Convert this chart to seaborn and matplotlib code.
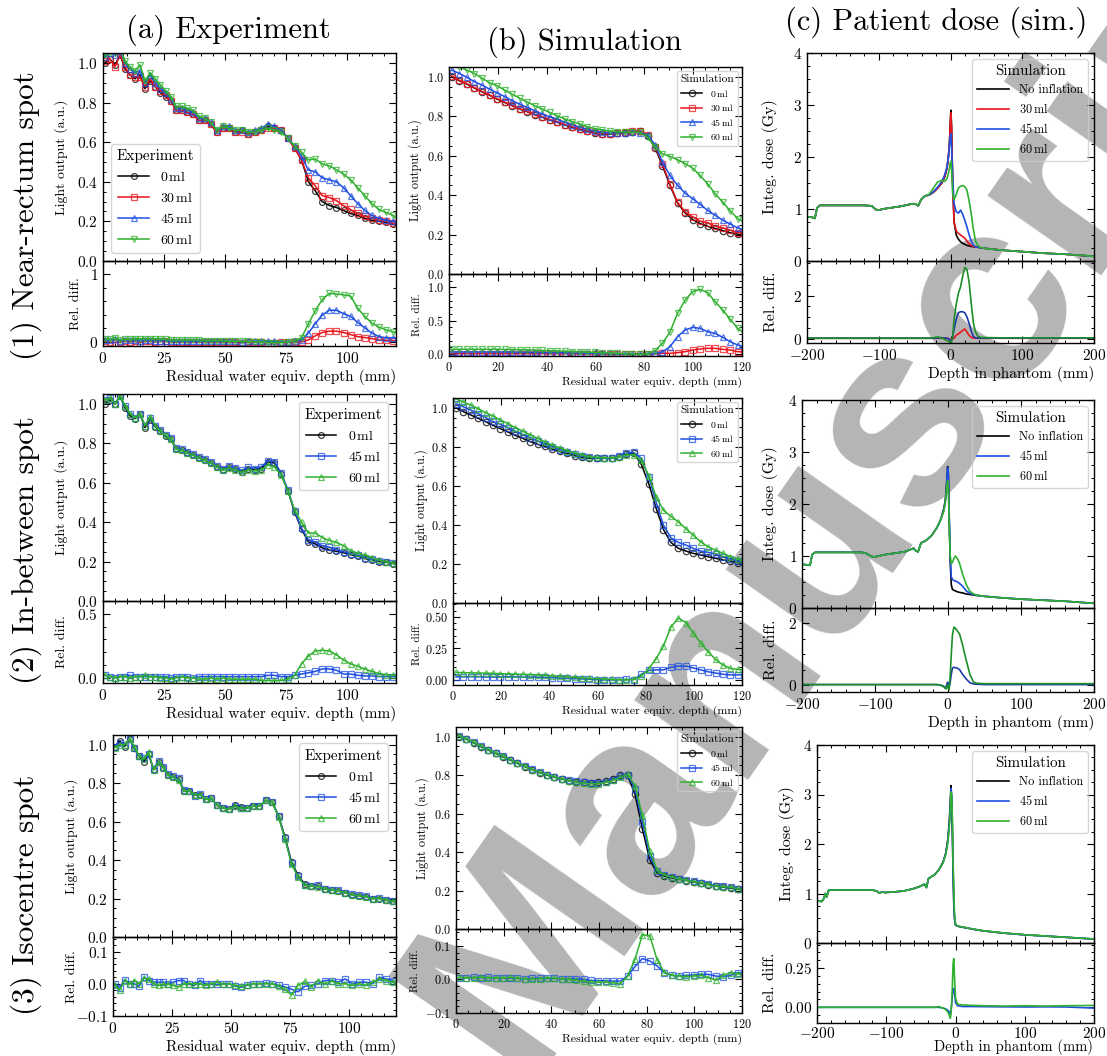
import numpy as np
import pandas as pd
import matplotlib
matplotlib.use("Agg")
import matplotlib.pyplot as plt
import seaborn as sns
from matplotlib.ticker import AutoMinorLocator, MultipleLocator, FixedLocator
from matplotlib.colors import to_rgba

# ---------------- data ----------------
# residual water equivalent depth of the fibre positions (experiment)
exp_x = [0.8, 2.8, 4.9, 7.0, 9.0, 11.0, 13.1, 15.1, 17.2, 19.3, 21.4, 23.5, 25.6, 27.8, 30.0,
         32.3, 34.6, 36.9, 39.3, 41.7, 44.1, 46.6, 49.1, 51.6, 54.2, 56.8, 59.4, 62.1, 64.8,
         67.5, 70.2, 72.9, 75.7, 78.5, 81.3, 84.1, 86.9, 89.8, 92.7, 95.6, 98.5, 101.4, 104.3,
         107.2, 110.1, 113.0, 115.9, 118.8, 121.7]
# simulation bins
sim_x = [1.2, 4.3, 7.4, 10.4, 13.5, 16.6, 19.7, 22.8, 25.8, 28.9, 32.0, 35.1, 38.2, 41.2, 44.3,
         47.4, 50.5, 53.6, 56.6, 59.7, 62.8, 65.9, 69.0, 72.0, 75.1, 78.2, 81.3, 84.4, 87.4, 90.5,
         93.6, 96.7, 99.8, 102.8, 105.9, 109.0, 112.1, 115.2, 118.2, 121.3]

# (1) near-rectum spot, experiment
r1_exp_0 = [1.00, 1.02, 0.99, 1.04, 0.97, 0.94, 0.92, 0.94, 0.87, 0.91,
            0.88, 0.85, 0.83, 0.81, 0.76, 0.76, 0.75, 0.74, 0.71, 0.71,
            0.69, 0.65, 0.67, 0.67, 0.65, 0.66, 0.64, 0.65, 0.66, 0.68,
            0.67, 0.66, 0.62, 0.57, 0.51, 0.40, 0.355, 0.30, 0.28, 0.27,
            0.255, 0.24, 0.23, 0.215, 0.205, 0.20, 0.195, 0.185, 0.175]
r1_exp_30 = [1.01, 1.02, 0.98, 1.04, 0.98, 0.94, 0.93, 0.93, 0.88, 0.92,
             0.88, 0.86, 0.84, 0.81, 0.76, 0.76, 0.75, 0.74, 0.71, 0.71,
             0.69, 0.65, 0.67, 0.67, 0.65, 0.65, 0.64, 0.65, 0.66, 0.67,
             0.67, 0.66, 0.62, 0.57, 0.51, 0.42, 0.38, 0.33, 0.32, 0.305,
             0.28, 0.26, 0.24, 0.225, 0.215, 0.207, 0.20, 0.19, 0.18]
r1_exp_45 = [1.03, 1.05, 1.04, 1.06, 1.00, 0.97, 0.95, 0.96, 0.90, 0.94,
             0.90, 0.87, 0.85, 0.82, 0.77, 0.77, 0.76, 0.75, 0.72, 0.72,
             0.70, 0.66, 0.68, 0.68, 0.66, 0.66, 0.65, 0.66, 0.67, 0.69,
             0.68, 0.66, 0.62, 0.58, 0.53, 0.46, 0.45, 0.42, 0.41, 0.40,
             0.37, 0.33, 0.29, 0.255, 0.23, 0.215, 0.205, 0.20, 0.19]
r1_exp_60 = [1.04, 1.05, 1.05, 1.07, 1.01, 0.98, 0.96, 0.99, 0.91, 0.95,
             0.92, 0.89, 0.86, 0.83, 0.78, 0.78, 0.77, 0.76, 0.73, 0.72,
             0.70, 0.66, 0.68, 0.67, 0.66, 0.66, 0.65, 0.65, 0.66, 0.67,
             0.66, 0.65, 0.62, 0.58, 0.55, 0.51, 0.515, 0.49, 0.48, 0.46,
             0.44, 0.41, 0.37, 0.33, 0.29, 0.26, 0.245, 0.23, 0.20]
r1_exp_rel_30 = [0.01, 0.0, -0.01, 0.0, 0.01, 0.0, 0.01, -0.01, 0.01, 0.01,
                 0.0, 0.01, 0.01, 0.0, 0.0, 0.0, 0.0, 0.0, 0.0, 0.0,
                 0.0, 0.0, 0.0, 0.0, 0.0, -0.01, 0.0, 0.0, 0.0, -0.01,
                 -0.01, 0.0, 0.0, 0.0, 0.0, 0.03, 0.09, 0.14, 0.16, 0.16,
                 0.14, 0.11, 0.08, 0.065, 0.05, 0.03, 0.025, 0.02, 0.02]
r1_exp_rel_45 = [0.03, 0.03, 0.05, 0.02, 0.03, 0.03, 0.03, 0.02, 0.03, 0.03,
                 0.02, 0.02, 0.02, 0.01, 0.01, 0.01, 0.01, 0.01, 0.01, 0.01,
                 0.01, 0.01, 0.01, 0.01, 0.01, 0.0, 0.01, 0.01, 0.01, 0.01,
                 0.01, 0.0, 0.0, 0.01, 0.03, 0.13, 0.27, 0.40, 0.47, 0.47,
                 0.42, 0.38, 0.29, 0.21, 0.13, 0.08, 0.06, 0.06, 0.055]
r1_exp_rel_60 = [0.05, 0.04, 0.06, 0.03, 0.04, 0.04, 0.05, 0.05, 0.05, 0.05,
                 0.05, 0.05, 0.04, 0.03, 0.03, 0.03, 0.03, 0.03, 0.03, 0.02,
                 0.02, 0.02, 0.02, 0.01, 0.01, 0.01, 0.01, 0.0, 0.0, -0.01,
                 -0.01, -0.01, 0.0, 0.01, 0.06, 0.27, 0.46, 0.63, 0.72, 0.71,
                 0.70, 0.68, 0.50, 0.38, 0.28, 0.22, 0.18, 0.15, 0.12]

# (1) near-rectum spot, simulation
r1_sim_0 = [1.0, 0.98, 0.963, 0.943, 0.924, 0.907, 0.887, 0.87, 0.854, 0.837,
            0.823, 0.808, 0.795, 0.781, 0.77, 0.756, 0.744, 0.733, 0.724, 0.716,
            0.71, 0.71, 0.714, 0.717, 0.722, 0.724, 0.70, 0.64, 0.55, 0.45,
            0.36, 0.31, 0.276, 0.256, 0.242, 0.231, 0.22, 0.209, 0.202, 0.196]
r1_sim_30 = [1.005, 0.982, 0.965, 0.945, 0.926, 0.909, 0.889, 0.872, 0.856, 0.839,
             0.825, 0.81, 0.797, 0.783, 0.772, 0.758, 0.746, 0.735, 0.726, 0.718,
             0.712, 0.712, 0.716, 0.719, 0.724, 0.727, 0.705, 0.645, 0.56, 0.455,
             0.365, 0.315, 0.29, 0.268, 0.26, 0.242, 0.234, 0.222, 0.21, 0.205]
r1_sim_45 = [1.034, 1.017, 0.997, 0.976, 0.958, 0.938, 0.918, 0.9, 0.879, 0.862,
             0.845, 0.828, 0.811, 0.798, 0.785, 0.77, 0.758, 0.744, 0.734, 0.724,
             0.719, 0.714, 0.716, 0.716, 0.72, 0.717, 0.705, 0.656, 0.567, 0.50,
             0.45, 0.41, 0.382, 0.354, 0.323, 0.298, 0.273, 0.253, 0.234, 0.22]
r1_sim_60 = [1.07, 1.05, 1.034, 1.017, 0.993, 0.97, 0.955, 0.933, 0.912, 0.892,
             0.872, 0.854, 0.837, 0.82, 0.803, 0.786, 0.773, 0.761, 0.747, 0.737,
             0.731, 0.724, 0.722, 0.719, 0.719, 0.719, 0.694, 0.645, 0.61, 0.596,
             0.58, 0.56, 0.537, 0.50, 0.458, 0.407, 0.365, 0.32, 0.281, 0.26]
r1_sim_rel_30 = [0.005, 0.005, 0.005, 0.005, 0.005, 0.005, 0.005, 0.005, 0.005, 0.005,
                 0.005, 0.005, 0.005, 0.004, 0.004, 0.004, 0.003, 0.003, 0.003, 0.002,
                 0.002, 0.0, 0.0, 0.0, 0.0, 0.0, 0.0, 0.005, 0.01, 0.01,
                 0.02, 0.035, 0.06, 0.075, 0.085, 0.085, 0.07, 0.06, 0.035, 0.03]
r1_sim_rel_45 = [0.03, 0.03, 0.03, 0.03, 0.03, 0.03, 0.03, 0.03, 0.028, 0.027,
                 0.026, 0.025, 0.022, 0.02, 0.02, 0.018, 0.016, 0.014, 0.012, 0.01,
                 0.008, 0.005, 0.003, 0.0, -0.003, -0.005, 0.0, 0.01, 0.03, 0.11,
                 0.26, 0.36, 0.40, 0.385, 0.335, 0.31, 0.25, 0.185, 0.135, 0.10]
r1_sim_rel_60 = [0.07, 0.07, 0.07, 0.07, 0.07, 0.07, 0.07, 0.068, 0.066, 0.064,
                 0.06, 0.057, 0.053, 0.05, 0.045, 0.04, 0.036, 0.032, 0.028, 0.024,
                 0.02, 0.015, 0.01, 0.005, 0.0, -0.005, 0.0, 0.05, 0.16, 0.33,
                 0.61, 0.81, 0.935, 0.97, 0.92, 0.785, 0.66, 0.52, 0.385, 0.30]

# (2) in-between spot, experiment
r2_exp_0 = [1.00, 1.02, 1.00, 1.04, 0.98, 0.94, 0.925, 0.95, 0.88, 0.92,
            0.885, 0.86, 0.835, 0.82, 0.77, 0.765, 0.75, 0.74, 0.725, 0.715,
            0.70, 0.68, 0.665, 0.678, 0.668, 0.655, 0.672, 0.666, 0.672, 0.705,
            0.70, 0.645, 0.56, 0.45, 0.365, 0.30, 0.29, 0.27, 0.258, 0.252,
            0.245, 0.235, 0.228, 0.215, 0.21, 0.20, 0.197, 0.19, 0.18]
r2_exp_45 = [1.02, 1.03, 1.00, 1.04, 0.99, 0.95, 0.93, 0.95, 0.89, 0.93,
             0.89, 0.865, 0.84, 0.825, 0.775, 0.77, 0.755, 0.745, 0.73, 0.72,
             0.705, 0.685, 0.67, 0.683, 0.673, 0.662, 0.678, 0.672, 0.68, 0.712,
             0.707, 0.65, 0.565, 0.455, 0.37, 0.31, 0.30, 0.28, 0.273, 0.26,
             0.25, 0.24, 0.232, 0.22, 0.212, 0.205, 0.20, 0.192, 0.183]
r2_exp_60 = [1.02, 1.03, 1.00, 1.04, 0.99, 0.95, 0.93, 0.95, 0.89, 0.935,
             0.89, 0.86, 0.84, 0.82, 0.77, 0.765, 0.75, 0.74, 0.725, 0.715,
             0.70, 0.68, 0.665, 0.675, 0.665, 0.652, 0.665, 0.66, 0.665, 0.69,
             0.68, 0.64, 0.56, 0.46, 0.40, 0.345, 0.345, 0.322, 0.307, 0.297,
             0.28, 0.255, 0.242, 0.234, 0.22, 0.207, 0.20, 0.192, 0.183]
r2_exp_rel_45 = [0.02, 0.01, 0.0, 0.01, 0.01, 0.02, 0.01, 0.01, 0.01, 0.01,
                 0.01, 0.01, 0.01, 0.0, 0.01, 0.01, 0.01, 0.0, 0.01, 0.01,
                 0.01, 0.01, 0.01, 0.01, 0.01, 0.01, 0.01, 0.01, 0.01, 0.02,
                 0.02, 0.01, 0.01, 0.02, 0.03, 0.04, 0.05, 0.07, 0.07, 0.06,
                 0.03, 0.03, 0.02, 0.015, 0.015, 0.01, 0.01, 0.01, 0.005]
r2_exp_rel_60 = [0.02, 0.01, 0.0, 0.01, 0.01, 0.0, 0.01, 0.01, 0.02, 0.01,
                 0.01, 0.0, 0.0, -0.01, 0.0, 0.01, 0.0, 0.0, -0.01, -0.01,
                 0.0, -0.01, 0.0, -0.01, -0.01, -0.01, -0.01, -0.01, -0.02, -0.02,
                 -0.02, -0.02, -0.01, 0.02, 0.11, 0.17, 0.21, 0.215, 0.21, 0.18,
                 0.14, 0.11, 0.09, 0.07, 0.05, 0.035, 0.025, 0.02, 0.015]

# (2) in-between spot, simulation
r2_sim_0 = [1.0, 0.98, 0.963, 0.946, 0.929, 0.91, 0.893, 0.876, 0.859, 0.844,
            0.827, 0.813, 0.802, 0.788, 0.776, 0.766, 0.754, 0.746, 0.741, 0.741,
            0.741, 0.741, 0.749, 0.763, 0.768, 0.71, 0.61, 0.483, 0.376, 0.31,
            0.28, 0.266, 0.254, 0.246, 0.237, 0.229, 0.22, 0.215, 0.207, 0.203]
r2_sim_45 = [1.02, 1.005, 0.988, 0.97, 0.95, 0.93, 0.915, 0.898, 0.88, 0.864,
             0.847, 0.83, 0.814, 0.8, 0.786, 0.775, 0.763, 0.751, 0.746, 0.742,
             0.741, 0.741, 0.751, 0.768, 0.771, 0.741, 0.644, 0.514, 0.398, 0.334,
             0.31, 0.297, 0.28, 0.266, 0.26, 0.25, 0.237, 0.225, 0.215, 0.21]
r2_sim_60 = [1.046, 1.03, 1.014, 0.995, 0.975, 0.958, 0.937, 0.919, 0.898, 0.881,
             0.861, 0.844, 0.825, 0.808, 0.795, 0.78, 0.768, 0.758, 0.749, 0.746,
             0.744, 0.744, 0.749, 0.758, 0.758, 0.73, 0.653, 0.542, 0.475, 0.444,
             0.415, 0.381, 0.347, 0.314, 0.288, 0.271, 0.254, 0.237, 0.225, 0.215]
r2_sim_rel_45 = [0.025, 0.025, 0.026, 0.025, 0.024, 0.023, 0.024, 0.025, 0.024, 0.023,
                 0.023, 0.022, 0.02, 0.018, 0.015, 0.012, 0.01, 0.008, 0.006, 0.003,
                 0.0, 0.0, 0.002, 0.004, 0.003, 0.045, 0.075, 0.08, 0.08, 0.10,
                 0.11, 0.11, 0.095, 0.08, 0.065, 0.055, 0.045, 0.04, 0.04, 0.045]
r2_sim_rel_60 = [0.06, 0.058, 0.056, 0.055, 0.054, 0.052, 0.05, 0.048, 0.046, 0.044,
                 0.042, 0.04, 0.036, 0.032, 0.028, 0.024, 0.02, 0.016, 0.012, 0.01,
                 0.008, 0.005, 0.002, 0.0, 0.005, 0.03, 0.09, 0.17, 0.27, 0.42,
                 0.49, 0.455, 0.37, 0.295, 0.224, 0.163, 0.118, 0.092, 0.084, 0.08]

# (3) isocentre spot, experiment
r3_exp_0 = [0.99, 1.02, 0.99, 1.03, 0.98, 0.94, 0.91, 0.95, 0.87, 0.91,
            0.88, 0.84, 0.83, 0.82, 0.76, 0.76, 0.74, 0.74, 0.715, 0.72,
            0.685, 0.67, 0.665, 0.685, 0.675, 0.67, 0.68, 0.68, 0.71, 0.70,
            0.63, 0.52, 0.39, 0.32, 0.275, 0.265, 0.265, 0.25, 0.245, 0.24,
            0.23, 0.22, 0.215, 0.21, 0.20, 0.20, 0.19, 0.185, 0.17]
r3_exp_45 = [0.99, 1.01, 1.00, 1.03, 0.98, 0.94, 0.93, 0.95, 0.875, 0.915,
             0.885, 0.845, 0.835, 0.825, 0.765, 0.76, 0.735, 0.745, 0.715, 0.72,
             0.685, 0.67, 0.665, 0.68, 0.668, 0.668, 0.68, 0.68, 0.71, 0.70,
             0.63, 0.515, 0.385, 0.315, 0.27, 0.265, 0.268, 0.252, 0.246, 0.243,
             0.23, 0.222, 0.216, 0.212, 0.20, 0.202, 0.194, 0.187, 0.17]
r3_exp_60 = [0.985, 1.0, 1.0, 1.03, 0.99, 0.94, 0.925, 0.96, 0.87, 0.91,
             0.88, 0.84, 0.83, 0.815, 0.76, 0.76, 0.74, 0.74, 0.715, 0.72,
             0.685, 0.67, 0.665, 0.68, 0.67, 0.67, 0.68, 0.68, 0.71, 0.70,
             0.625, 0.51, 0.38, 0.31, 0.27, 0.265, 0.262, 0.252, 0.245, 0.24,
             0.23, 0.22, 0.215, 0.21, 0.20, 0.202, 0.192, 0.186, 0.167]
r3_exp_rel_45 = [0.0, -0.013, 0.013, 0.0, 0.0, -0.008, 0.02, 0.01, 0.005, 0.005,
                 0.005, 0.0, 0.005, 0.01, 0.01, -0.002, -0.005, 0.01, 0.0, -0.002,
                 -0.002, 0.0, 0.0, -0.007, -0.011, -0.005, 0.0, 0.0, 0.002, 0.0,
                 -0.005, -0.01, -0.017, -0.025, -0.008, -0.005, 0.0, 0.01, 0.01, 0.005,
                 0.015, 0.0, 0.005, 0.005, 0.0, 0.02, 0.015, 0.01, -0.01]
r3_exp_rel_60 = [-0.005, -0.02, 0.01, 0.0, 0.01, 0.0, 0.017, 0.015, 0.0, -0.005,
                 -0.002, -0.002, -0.005, -0.01, 0.0, 0.0, 0.0, 0.0, -0.005, 0.0,
                 0.005, -0.002, 0.0, -0.005, -0.008, -0.003, 0.0, 0.0, 0.0, 0.0,
                 -0.008, -0.017, -0.035, -0.005, 0.007, -0.01, 0.01, 0.0, 0.008, 0.0,
                 0.0, -0.005, 0.0, -0.005, 0.005, 0.015, 0.01, 0.005, -0.017]

# (3) isocentre spot, simulation
r3_sim_0 = [1.0, 0.987, 0.968, 0.948, 0.93, 0.913, 0.895, 0.878, 0.861, 0.844,
            0.828, 0.813, 0.80, 0.789, 0.779, 0.771, 0.766, 0.762, 0.761, 0.762,
            0.768, 0.78, 0.798, 0.80, 0.70, 0.52, 0.36, 0.29, 0.275, 0.266,
            0.258, 0.252, 0.244, 0.237, 0.231, 0.223, 0.218, 0.213, 0.207, 0.20]
r3_sim_45 = [1.002, 0.989, 0.97, 0.95, 0.932, 0.915, 0.897, 0.88, 0.863, 0.846,
             0.83, 0.815, 0.802, 0.791, 0.781, 0.772, 0.767, 0.762, 0.759, 0.759,
             0.765, 0.777, 0.795, 0.80, 0.73, 0.555, 0.38, 0.30, 0.28, 0.27,
             0.261, 0.255, 0.247, 0.24, 0.234, 0.226, 0.221, 0.216, 0.21, 0.204]
r3_sim_60 = [1.004, 0.99, 0.971, 0.952, 0.933, 0.916, 0.898, 0.881, 0.864, 0.846,
             0.829, 0.815, 0.803, 0.792, 0.781, 0.771, 0.764, 0.757, 0.755, 0.756,
             0.762, 0.772, 0.788, 0.805, 0.745, 0.59, 0.405, 0.305, 0.281, 0.27,
             0.26, 0.254, 0.246, 0.24, 0.232, 0.223, 0.22, 0.217, 0.21, 0.203]
r3_sim_rel_45 = [0.005, 0.005, 0.006, 0.005, 0.006, 0.005, 0.005, 0.004, 0.003, 0.002,
                 0.003, 0.004, 0.003, 0.003, 0.002, 0.0, 0.002, 0.0, -0.003, -0.004,
                 -0.004, -0.005, -0.005, 0.01, 0.038, 0.062, 0.055, 0.04, 0.02, 0.012,
                 0.01, 0.012, 0.013, 0.015, 0.015, 0.01, 0.008, 0.012, 0.02, 0.018]
r3_sim_rel_60 = [0.006, 0.005, 0.005, 0.007, 0.005, 0.005, 0.005, 0.006, 0.004, 0.002,
                 0.001, 0.002, 0.005, 0.004, 0.002, 0.0, -0.003, -0.006, -0.008, -0.008,
                 -0.008, -0.01, -0.013, 0.01, 0.06, 0.133, 0.13, 0.058, 0.021, 0.012,
                 0.01, 0.008, 0.01, 0.012, 0.005, -0.002, 0.012, 0.02, 0.016, 0.016]

# patient dose (sim.), depth in phantom (mm)
d1_x = [-200, -193, -189, -186, -182, -150, -120, -110, -104, -100, -90, -80, -70, -60, -53,
        -49, -45, -41, -36, -30, -24, -18, -12, -8, -5, -3, -1.5, -0.5, 0.5, 1.5,
        3, 5, 8, 11, 14, 17, 20, 23, 26, 29, 32, 35, 38, 42, 50, 70, 100, 130, 160, 200]
d1_none = [0.85, 0.84, 0.82, 1.02, 1.07, 1.07, 1.07, 1.06, 0.99, 0.98, 1.01, 1.03, 1.05, 1.08, 1.10,
           1.10, 1.06, 1.18, 1.25, 1.27, 1.32, 1.40, 1.50, 1.62, 1.78, 1.98, 2.25, 2.6, 2.9, 2.6,
           1.5, 0.75, 0.5, 0.42, 0.37, 0.34, 0.32, 0.30, 0.29, 0.28, 0.275, 0.27, 0.265, 0.255, 0.24,
           0.21, 0.18, 0.15, 0.13, 0.09]
d1_30 = [0.85, 0.84, 0.82, 1.02, 1.07, 1.07, 1.07, 1.06, 0.99, 0.98, 1.01, 1.03, 1.05, 1.08, 1.10,
         1.10, 1.06, 1.18, 1.25, 1.27, 1.32, 1.40, 1.51, 1.63, 1.79, 1.99, 2.25, 2.55, 2.85, 2.55,
         1.5, 0.75, 0.58, 0.53, 0.50, 0.47, 0.44, 0.38, 0.33, 0.30, 0.28, 0.275, 0.265, 0.255, 0.24,
         0.21, 0.18, 0.15, 0.13, 0.09]
d1_45 = [0.85, 0.84, 0.82, 1.02, 1.07, 1.07, 1.07, 1.06, 0.99, 0.98, 1.01, 1.03, 1.05, 1.08, 1.10,
         1.10, 1.06, 1.18, 1.25, 1.27, 1.33, 1.42, 1.53, 1.66, 1.80, 2.0, 2.2, 2.4, 2.45, 2.2,
         1.6, 1.1, 0.95, 0.92, 0.98, 0.90, 0.78, 0.65, 0.50, 0.38, 0.30, 0.275, 0.265, 0.255, 0.24,
         0.21, 0.18, 0.15, 0.13, 0.09]
d1_60 = [0.85, 0.84, 0.82, 1.02, 1.07, 1.07, 1.07, 1.06, 0.99, 0.98, 1.01, 1.03, 1.05, 1.08, 1.10,
         1.10, 1.06, 1.18, 1.25, 1.28, 1.40, 1.52, 1.55, 1.53, 1.58, 1.68, 1.78, 1.88, 1.92, 1.75,
         1.3, 1.18, 1.28, 1.40, 1.44, 1.45, 1.43, 1.36, 1.15, 0.9, 0.6, 0.38, 0.3, 0.26, 0.24,
         0.21, 0.18, 0.15, 0.13, 0.09]
d1_rel_30 = [0.02, 0.02, 0.02, 0.02, 0.02, 0.02, 0.02, 0.02, 0.02, 0.02, 0.02, 0.02, 0.02, 0.02, 0.02,
             0.02, 0.02, 0.02, 0.02, 0.02, 0.02, 0.02, 0.02, 0.02, 0.02, 0.0, -0.02, -0.03, -0.03, -0.02,
             0.0, 0.02, 0.16, 0.22, 0.3, 0.38, 0.45, 0.3, 0.15, 0.06, 0.03, 0.02, 0.02, 0.02, 0.02,
             0.02, 0.02, 0.02, 0.02, 0.02]
d1_rel_45 = [0.02, 0.02, 0.02, 0.02, 0.02, 0.02, 0.02, 0.02, 0.02, 0.02, 0.02, 0.02, 0.02, 0.02, 0.02,
             0.02, 0.02, 0.02, 0.02, 0.02, 0.02, 0.03, 0.04, 0.03, 0.02, 0.0, -0.03, -0.08, -0.12, -0.08,
             0.05, 0.45, 0.9, 1.2, 1.25, 1.25, 1.2, 1.0, 0.7, 0.35, 0.1, 0.04, 0.03, 0.03, 0.03,
             0.03, 0.03, 0.03, 0.03, 0.03]
d1_rel_60 = [0.02, 0.02, 0.02, 0.02, 0.02, 0.02, 0.02, 0.02, 0.02, 0.02, 0.02, 0.02, 0.02, 0.02, 0.02,
             0.02, 0.02, 0.02, 0.02, 0.02, 0.04, 0.08, 0.04, -0.04, -0.08, -0.12, -0.15, -0.18, -0.18, -0.12,
             0.1, 0.9, 1.6, 2.1, 2.4, 2.9, 3.3, 3.2, 2.6, 1.6, 0.7, 0.3, 0.12, 0.06, 0.05,
             0.04, 0.04, 0.04, 0.04, 0.04]

d2_x = [-200, -193, -189, -186, -182, -150, -118, -112, -106, -102, -95, -85, -70, -60, -52,
        -47, -44, -41, -37, -30, -22, -15, -10, -6, -4, -2.5, -1.5, -0.5, 0.5, 1.5,
        3, 4.5, 6, 8, 10, 13, 16, 20, 25, 30, 35, 40, 50, 70, 100, 130, 160, 200]
d2_none = [0.84, 0.83, 0.82, 1.03, 1.07, 1.07, 1.07, 1.05, 1.0, 0.98, 1.0, 1.03, 1.06, 1.08, 1.12,
           1.15, 1.1, 1.08, 1.25, 1.3, 1.4, 1.55, 1.7, 1.9, 2.05, 2.25, 2.5, 2.72, 2.55, 1.8,
           0.9, 0.45, 0.36, 0.34, 0.33, 0.31, 0.3, 0.29, 0.27, 0.26, 0.25, 0.24, 0.225, 0.2, 0.17,
           0.15, 0.13, 0.09]
d2_45 = [0.84, 0.83, 0.82, 1.03, 1.07, 1.07, 1.07, 1.05, 1.0, 0.98, 1.0, 1.03, 1.06, 1.08, 1.12,
         1.15, 1.1, 1.08, 1.25, 1.3, 1.4, 1.55, 1.7, 1.88, 2.0, 2.2, 2.5, 2.7, 2.6, 1.9,
         1.0, 0.6, 0.55, 0.53, 0.52, 0.5, 0.47, 0.42, 0.33, 0.28, 0.26, 0.245, 0.225, 0.2, 0.17,
         0.15, 0.13, 0.09]
d2_60 = [0.84, 0.83, 0.82, 1.03, 1.07, 1.07, 1.07, 1.05, 1.0, 0.98, 1.0, 1.03, 1.06, 1.08, 1.12,
         1.15, 1.1, 1.08, 1.25, 1.3, 1.4, 1.55, 1.7, 1.85, 2.0, 2.2, 2.35, 2.45, 2.3, 1.7,
         1.0, 0.85, 0.88, 0.95, 1.0, 0.95, 0.85, 0.65, 0.45, 0.32, 0.27, 0.245, 0.225, 0.2, 0.17,
         0.15, 0.13, 0.09]
d2_rel_45 = [0.02, 0.02, 0.02, 0.02, 0.02, 0.02, 0.02, 0.02, 0.02, 0.02, 0.02, 0.02, 0.02, 0.02, 0.02,
             0.02, 0.02, 0.02, 0.02, 0.02, 0.02, 0.02, 0.0, -0.03, -0.08, -0.05, 0.03, 0.1, 0.05, -0.08,
             0.1, 0.35, 0.55, 0.58, 0.57, 0.55, 0.5, 0.35, 0.2, 0.08, 0.04, 0.03, 0.02, 0.02, 0.02,
             0.02, 0.02, 0.02]
d2_rel_60 = [0.02, 0.02, 0.02, 0.02, 0.02, 0.02, 0.02, 0.02, 0.02, 0.02, 0.02, 0.02, 0.02, 0.02, 0.02,
             0.02, 0.02, 0.02, 0.02, 0.02, 0.02, 0.02, 0.0, -0.05, -0.1, -0.12, -0.05, 0.0, -0.1, -0.15,
             0.3, 1.0, 1.6, 1.88, 1.85, 1.75, 1.65, 1.3, 0.8, 0.35, 0.1, 0.06, 0.05, 0.05, 0.05,
             0.05, 0.05, 0.05]

d3_x = [-200, -193, -190, -188, -186, -183, -150, -120, -114, -110, -106, -102, -90, -75, -60,
        -50, -45, -42, -39, -36, -30, -24, -18, -14, -11, -9, -7.5, -6.5, -5.5, -4.5,
        -3.5, -2.5, -1.5, 0, 3, 10, 25, 40, 70, 100, 130, 160, 200]
d3_none = [0.85, 0.84, 0.9, 1.0, 0.93, 1.07, 1.07, 1.07, 1.05, 1.01, 1.03, 1.02, 1.03, 1.05, 1.1,
           1.15, 1.19, 1.12, 1.3, 1.33, 1.38, 1.48, 1.63, 1.82, 2.1, 2.45, 2.85, 3.18, 2.9, 2.2,
           1.4, 0.8, 0.5, 0.36, 0.34, 0.32, 0.28, 0.245, 0.2, 0.165, 0.14, 0.115, 0.08]
d3_45 = [0.85, 0.84, 0.9, 1.0, 0.93, 1.07, 1.07, 1.07, 1.05, 1.01, 1.03, 1.02, 1.03, 1.05, 1.1,
         1.15, 1.19, 1.12, 1.3, 1.33, 1.38, 1.48, 1.63, 1.81, 2.07, 2.4, 2.78, 3.12, 2.95, 2.35,
         1.55, 0.9, 0.55, 0.37, 0.34, 0.32, 0.28, 0.245, 0.2, 0.165, 0.14, 0.115, 0.08]
d3_60 = [0.85, 0.84, 0.9, 1.0, 0.93, 1.07, 1.07, 1.07, 1.05, 1.01, 1.03, 1.02, 1.03, 1.05, 1.1,
         1.15, 1.19, 1.12, 1.3, 1.33, 1.38, 1.48, 1.62, 1.79, 2.03, 2.33, 2.7, 3.05, 3.0, 2.5,
         1.7, 1.05, 0.6, 0.38, 0.345, 0.325, 0.283, 0.247, 0.202, 0.167, 0.141, 0.116, 0.081]
d3_rel_45 = [0.0, 0.0, 0.0, 0.0, 0.0, 0.0, 0.0, 0.0, 0.0, 0.0, 0.0, 0.0, 0.0, 0.0, 0.0,
             0.0, 0.0, 0.0, 0.0, 0.0, 0.0, 0.0, -0.005, -0.01, -0.02, -0.03, -0.04, -0.02, 0.02, 0.07,
             0.11, 0.12, 0.1, 0.03, 0.01, 0.005, 0.005, 0.004, 0.003, 0.002, 0.003, 0.002, -0.005]
d3_rel_60 = [0.0, 0.0, 0.0, 0.0, 0.0, 0.0, 0.0, 0.0, 0.0, 0.0, 0.0, 0.0, 0.0, 0.0, 0.0,
             0.0, 0.0, 0.0, 0.0, 0.0, 0.0, 0.005, -0.005, -0.015, -0.03, -0.05, -0.07, -0.04, 0.03, 0.14,
             0.28, 0.31, 0.2, 0.06, 0.02, 0.015, 0.012, 0.01, 0.008, 0.01, 0.008, 0.01, 0.012]

# ---------------- style ----------------
plt.rcParams.update({
    "font.family": ["cmr10"],
    "mathtext.fontset": "cm",
    "axes.formatter.use_mathtext": True,
    "axes.linewidth": 1.0,
    "xtick.direction": "in", "ytick.direction": "in",
    "xtick.top": True, "ytick.right": True,
    "xtick.major.size": 5, "ytick.major.size": 5,
    "xtick.minor.size": 2.5, "ytick.minor.size": 2.5,
    "xtick.major.width": 0.8, "ytick.major.width": 0.8,
    "xtick.minor.width": 0.7, "ytick.minor.width": 0.7,
    "legend.edgecolor": "0.8",
    "legend.fancybox": True,
    "axes.facecolor": "none",
})

BLACK, RED, BLUE, GREEN = "#000000", "#e8141c", "#1f4fe0", "#2fb02f"
BLUE_D, GREEN_D = "#1c3aa8", "#1d8f28"

W, H = 1107, 1056
fig = plt.figure(figsize=(W / 100, H / 100), dpi=100)

# grey watermark behind everything
fig.text(515 / W, 1 - 995 / H, "Accepted Manuscript", fontsize=190, family="Liberation Sans",
         weight="bold", color="#b5b5b5", rotation=55, rotation_mode="anchor",
         ha="center", va="center", zorder=-5)


def add_ax(l, t, r, b):
    return fig.add_axes([l / W, 1 - b / H, (r - l) / W, (b - t) / H])


def draw(ax, x, series, ms, lw=1.1):
    for lab, y, col, mk in series:
        sns.lineplot(x=x, y=y, ax=ax, color=col, marker=mk, markersize=ms,
                     markerfacecolor="none", markeredgecolor=to_rgba(col, 0.75),
                     markeredgewidth=0.9, linewidth=lw, label=lab, sort=False, estimator=None)


def ml(v):
    return v + r"$\,$ml"


def style_pair(top, bot, xmaj, xmin_div, xlim, fs, ylab_x, rel_x, rel_lim, rel_ticks,
               xlabel, lab_fs, xl_fs):
    for a in (top, bot):
        a.set_xlim(*xlim)
        a.xaxis.set_major_locator(MultipleLocator(xmaj))
        a.xaxis.set_minor_locator(AutoMinorLocator(xmin_div))
        a.tick_params(labelsize=fs, which="both")
    top.tick_params(labelbottom=False)
    bot.set_ylim(*rel_lim)
    bot.yaxis.set_major_locator(FixedLocator(rel_ticks))
    bot.yaxis.set_minor_locator(AutoMinorLocator())
    bot.set_ylabel("Rel. diff.", fontsize=lab_fs)
    bot.yaxis.set_label_coords(rel_x, 0.5)
    top.yaxis.set_label_coords(ylab_x, 0.5)
    if xlabel:
        bot.set_xlabel(xlabel, fontsize=xl_fs, loc="right", labelpad=2)


XL_RW = "Residual water equiv. depth (mm)"

layout = {
    "a": [((103, 53, 396, 261), (103, 261, 396, 346), -0.12, -0.072, (-0.06, 1.2), [0, 1]),
          ((103, 394, 396, 601), (103, 601, 396, 683), -0.12, -0.12, (-0.04, 0.6), [0.0, 0.5]),
          ((113, 735, 396, 937), (113, 937, 396, 1016), -0.124, -0.124, (-0.1, 0.145), [-0.1, 0.0, 0.1])],
    "b": [((449, 67, 742, 274), (449, 274, 742, 356), -0.092, -0.092, (-0.03, 1.2), [0.0, 0.5, 1.0]),
          ((453, 398, 742, 603), (453, 603, 742, 685), -0.087, -0.107, (-0.04, 0.61), [0.0, 0.25, 0.5]),
          ((456, 727, 742, 929), (456, 929, 742, 1013), -0.094, -0.126, (-0.1, 0.15), [-0.1, 0.0, 0.1])],
    "c": [((807, 53, 1094, 261), (807, 261, 1094, 343), -0.10, -0.10, (-0.2, 3.6), [0, 2]),
          ((802, 400, 1094, 608), (802, 608, 1094, 692), -0.082, -0.082, (-0.22, 2.5), [0, 2]),
          ((817, 745, 1094, 943), (817, 943, 1094, 1023), -0.079, -0.144, (-0.1, 0.41), [0.0, 0.25])],
}

exp_main = [
    [(ml("0"), r1_exp_0, BLACK, "o"), (ml("30"), r1_exp_30, RED, "s"),
     (ml("45"), r1_exp_45, BLUE, "^"), (ml("60"), r1_exp_60, GREEN, "v")],
    [(ml("0"), r2_exp_0, BLACK, "o"), (ml("45"), r2_exp_45, BLUE, "s"), (ml("60"), r2_exp_60, GREEN, "^")],
    [(ml("0"), r3_exp_0, BLACK, "o"), (ml("45"), r3_exp_45, BLUE, "s"), (ml("60"), r3_exp_60, GREEN, "^")],
]
exp_rel = [
    [(None, r1_exp_rel_30, RED, "s"), (None, r1_exp_rel_45, BLUE, "^"), (None, r1_exp_rel_60, GREEN, "v")],
    [(None, r2_exp_rel_45, BLUE, "s"), (None, r2_exp_rel_60, GREEN, "^")],
    [(None, r3_exp_rel_45, BLUE, "s"), (None, r3_exp_rel_60, GREEN, "^")],
]
sim_main = [
    [(ml("0"), r1_sim_0, BLACK, "o"), (ml("30"), r1_sim_30, RED, "s"),
     (ml("45"), r1_sim_45, BLUE, "^"), (ml("60"), r1_sim_60, GREEN, "v")],
    [(ml("0"), r2_sim_0, BLACK, "o"), (ml("45"), r2_sim_45, BLUE, "s"), (ml("60"), r2_sim_60, GREEN, "^")],
    [(ml("0"), r3_sim_0, BLACK, "o"), (ml("45"), r3_sim_45, BLUE, "s"), (ml("60"), r3_sim_60, GREEN, "^")],
]
sim_rel = [
    [(None, r1_sim_rel_30, RED, "s"), (None, r1_sim_rel_45, BLUE, "^"), (None, r1_sim_rel_60, GREEN, "v")],
    [(None, r2_sim_rel_45, BLUE, "s"), (None, r2_sim_rel_60, GREEN, "^")],
    [(None, r3_sim_rel_45, BLUE, "s"), (None, r3_sim_rel_60, GREEN, "^")],
]
dose_x = [d1_x, d2_x, d3_x]
dose_main = [
    [("No inflation", d1_none, BLACK), (ml("30"), d1_30, RED), (ml("45"), d1_45, BLUE), (ml("60"), d1_60, GREEN)],
    [("No inflation", d2_none, BLACK), (ml("45"), d2_45, BLUE), (ml("60"), d2_60, GREEN)],
    [("No inflation", d3_none, BLACK), (ml("45"), d3_45, BLUE), (ml("60"), d3_60, GREEN)],
]
dose_rel = [
    [(d1_rel_30, RED), (d1_rel_45, BLUE_D), (d1_rel_60, GREEN_D)],
    [(d2_rel_45, BLUE_D), (d2_rel_60, GREEN_D)],
    [(d3_rel_45, BLUE), (d3_rel_60, GREEN)],
]

for i in range(3):
    # (a) experiment
    (mt, rb, yx, rx, rlim, rticks) = layout["a"][i]
    top, bot = add_ax(*mt), add_ax(*rb)
    draw(top, exp_x, exp_main[i], ms=4.2)
    draw(bot, exp_x, exp_rel[i], ms=4.2)
    top.set_ylim(0, 1.05)
    top.yaxis.set_major_locator(MultipleLocator(0.2))
    top.yaxis.set_minor_locator(AutoMinorLocator(4))
    top.set_ylabel("Light output (a.u.)", fontsize=10)
    style_pair(top, bot, 25, 5, (0, 120), 11, yx, rx, rlim, rticks, XL_RW, 10, 11)
    top.legend(title="Experiment", loc="lower left" if i == 0 else "upper right",
               fontsize=10, title_fontsize=11, handlelength=2.2, borderaxespad=0.6)

    # (b) simulation
    (mt, rb, yx, rx, rlim, rticks) = layout["b"][i]
    top, bot = add_ax(*mt), add_ax(*rb)
    draw(top, sim_x, sim_main[i], ms=4.6)
    draw(bot, sim_x, sim_rel[i], ms=4.6)
    top.set_ylim(0, 1.05)
    top.yaxis.set_major_locator(MultipleLocator(0.2))
    top.yaxis.set_minor_locator(AutoMinorLocator(4))
    top.set_ylabel("Light output (a.u.)", fontsize=8.8)
    style_pair(top, bot, 20, 4, (0, 120), 8.8, yx, rx, rlim, rticks, XL_RW, 8.2, 8.6)
    top.legend(title="Simulation", loc="upper right", fontsize=7, title_fontsize=8.2,
               handlelength=2.2, borderaxespad=0.4, labelspacing=0.35)

    # (c) patient dose
    (mt, rb, yx, rx, rlim, rticks) = layout["c"][i]
    top, bot = add_ax(*mt), add_ax(*rb)
    for lab, y, col in dose_main[i]:
        sns.lineplot(x=dose_x[i], y=y, ax=top, color=col, linewidth=1.2, label=lab,
                     sort=False, estimator=None)
    for y, col in dose_rel[i]:
        sns.lineplot(x=dose_x[i], y=y, ax=bot, color=col, linewidth=1.2, sort=False, estimator=None)
    top.set_ylim(0, 4)
    top.yaxis.set_major_locator(MultipleLocator(1))
    top.yaxis.set_minor_locator(AutoMinorLocator(4))
    top.set_ylabel("Integ. dose (Gy)", fontsize=11.5)
    style_pair(top, bot, 100, 5, (-200, 200), 11, yx, rx, rlim, rticks,
               "Depth in phantom (mm)" if i < 2 else None, 11.5, 11)
    if i == 2:
        bot.tick_params(axis="x", pad=2)
        fig.text(1093 / W, 1 - 1047 / H, "Depth in phantom (mm)", ha="right", va="center",
                 fontsize=10.5)
    top.legend(title="Simulation", loc="upper right", fontsize=8.8, title_fontsize=10.8,
               handlelength=2.6, borderaxespad=0.5)

# column titles and row labels
fig.text(228 / W, 1 - 30 / H, "(a) Experiment", ha="center", va="center", fontsize=22)
fig.text(584 / W, 1 - 42 / H, "(b) Simulation", ha="center", va="center", fontsize=22)
fig.text(936 / W, 1 - 22 / H, "(c) Patient dose (sim.)", ha="center", va="center", fontsize=22)
fig.text(26 / W, 1 - 216 / H, "(1) Near-rectum spot", ha="center", va="center", rotation=90, fontsize=22.5)
fig.text(26 / W, 1 - 550 / H, "(2) In-between spot", ha="center", va="center", rotation=90, fontsize=22.5)
fig.text(26 / W, 1 - 895 / H, "(3) Isocentre spot", ha="center", va="center", rotation=90, fontsize=22.5)

fig.savefig("out.png", dpi=100)
